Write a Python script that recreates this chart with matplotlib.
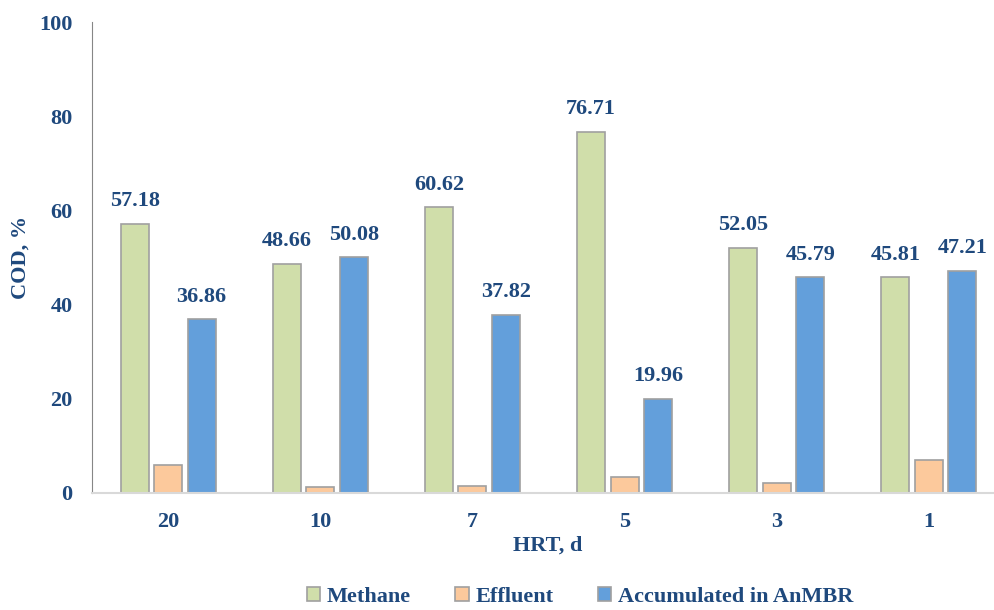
import numpy as np
import matplotlib.pyplot as plt

hrt = ['20', '10', '7', '5', '3', '1']
methane = [57.18, 48.66, 60.62, 76.71, 52.05, 45.81]
effluent = [6.0, 1.3, 1.4, 3.3, 2.1, 7.0]
accumulated = [36.86, 50.08, 37.82, 19.96, 45.79, 47.21]

navy = '#1F497D'
plt.rcParams['font.family'] = ['Liberation Serif', 'DejaVu Serif']
plt.rcParams['font.weight'] = 'bold'

fig = plt.figure(figsize=(9.94, 6.10), dpi=100)
ax = fig.add_axes([92 / 994, 1 - 493 / 610, 913 / 994, 471 / 610])

x = np.arange(len(hrt))
slot = 0.22
w = 0.184
edge = '#A0A0A0'
b1 = ax.bar(x - slot, methane, w, color='#D0DEAA', edgecolor=edge, linewidth=1.2, label='Methane')
b2 = ax.bar(x, effluent, w, color='#FCC99C', edgecolor=edge, linewidth=1.2, label='Effluent')
b3 = ax.bar(x + slot, accumulated, w, color='#639FDB', edgecolor=edge, linewidth=1.2, label='Accumulated in AnMBR')

for bars in (b1, b3):
    ax.bar_label(bars, labels=[f'{v:.2f}' for v in bars.datavalues], padding=9,
                 fontsize=16, color=navy, fontweight='bold')

ax.set_xlim(-0.5, 5.5)
ax.set_ylim(0, 100)
ax.set_yticks(range(0, 101, 20))
ax.set_xticks(x)
ax.set_xticklabels(hrt)
ax.tick_params(length=0, labelsize=16, labelcolor=navy)
ax.tick_params(axis='x', pad=14)
ax.tick_params(axis='y', pad=14)
for s in ('top', 'right'):
    ax.spines[s].set_visible(False)
ax.spines['left'].set_color('#868686')
ax.spines['bottom'].set_color('#D9D9D9')
ax.spines['bottom'].set_linewidth(1.5)

ax.set_ylabel('COD, %', fontsize=16, color=navy, fontweight='bold', labelpad=6)
fig.text(548 / 994, 1 - 546 / 610, 'HRT, d', ha='center', va='center',
         fontsize=16, color=navy, fontweight='bold')

leg = fig.legend(loc='center', bbox_to_anchor=(580 / 994, 1 - 597 / 610), ncol=3,
                 frameon=False, fontsize=16, handlelength=0.6, handleheight=0.6,
                 handletextpad=0.3, columnspacing=2.0)
for t in leg.get_texts():
    t.set_color(navy)

fig.savefig('out.png', dpi=100)
